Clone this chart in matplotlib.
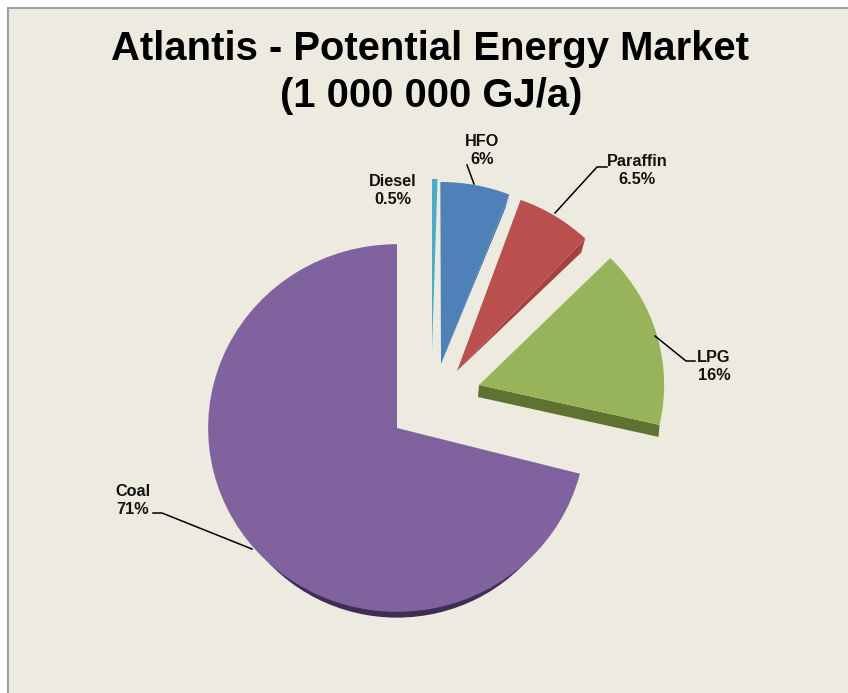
import matplotlib
matplotlib.use('Agg')
import matplotlib.pyplot as plt
import numpy as np
from matplotlib.patches import Rectangle, Wedge

W, H = 848, 693

fuels = ['Coal', 'LPG', 'Paraffin', 'HFO', 'Diesel']
shares = [71, 16, 6.5, 6, 0.5]
top_colors = ['#80639e', '#97b45a', '#b9504d', '#5080b8', '#4bacc6']
side_colors = ['#3f2d55', '#5f7232', '#a5423f', '#4874a8', '#4bacc6']

# pie centre and radii on the canvas, pixels
cx, cy = 397, 428
rx, ry = 187, 182

# how far each slice is pulled out (pixels right / up) and turned (degrees)
pull = [(0, 0), (82, 43), (60, 57), (44, 64), (35, 77)]
turn = [0, 1.6, 3.5, 2.0, 0]
scale = [1.01, 0.99, 1, 1, 0.945]

label_pos = [(133, 500), (714, 366), (637, 171), (482, 150), (393, 191)]
leaders = [
    [(153, 513), (162, 513), (252, 549)],
    [(655, 336), (686, 361), (695, 361)],
    [(607, 167), (597, 167), (555, 213)],
    [(467, 165), (474, 184)],
]

plt.rcParams['font.family'] = ['Liberation Sans', 'DejaVu Sans']

fig = plt.figure(figsize=(W / 100, H / 100), dpi=100, facecolor='white')

# tan slide panel, runs off the right and bottom
fig.patches.append(Rectangle((8 / W, -0.1), 1, 1.1 - 8 / H, transform=fig.transFigure,
                             facecolor='#edebe0', edgecolor='#a0a0a0', linewidth=1.5, zorder=0))

ax = fig.add_axes([0, 0, 1, 1], zorder=1)
wedges, _ = ax.pie(shares, colors=top_colors, startangle=90, counterclock=True, radius=1.0)
ax.set_aspect('auto')
ax.set_xlim(-cx / rx, (W - cx) / rx)
ax.set_ylim(-(H - cy) / ry, cy / ry)
ax.axis('off')

for w, (dx, dy), t, s in zip(wedges, pull, turn, scale):
    w.set_center((dx / rx, dy / ry))
    w.set_theta1(w.theta1 + t)
    w.set_theta2(w.theta2 + t)
    w.set_radius(s)
    w.set_zorder(3)
    w.set_linewidth(0)


def edge_points(w):
    # apex and outer corner of a wedge's lower straight edge
    a = np.radians(w.theta1)
    apex = np.array(w.center)
    return apex, apex + w.r * np.array([np.cos(a), np.sin(a)])


coal, lpg, paraffin, hfo, diesel = wedges

# rim under the big slice: a smaller, lowered wedge that only shows along the bottom
ax.add_patch(Wedge((0, -20 / ry), 0.932, 215, 325, facecolor=side_colors[0], linewidth=0, zorder=2))

# LPG wall has the same height along the whole edge
apex, tip = edge_points(lpg)
drop = np.array([-1 / rx, -12 / ry])
corners = np.array([apex, tip, tip + drop, apex + drop])
ax.fill(corners[:, 0], corners[:, 1], color=side_colors[1], linewidth=0, zorder=2)

# paraffin and HFO walls narrow down to nothing at the apex
for w, off, color in [(paraffin, (-4, -14), side_colors[2]), (hfo, (-4, -14), side_colors[3])]:
    apex, tip = edge_points(w)
    low = tip + np.array([off[0] / rx, off[1] / ry])
    corners = np.array([apex, tip, low])
    ax.fill(corners[:, 0], corners[:, 1], color=color, linewidth=0, zorder=2)

# title, labels and leader lines in canvas pixels
ov = fig.add_axes([0, 0, 1, 1], zorder=2)
ov.set_xlim(0, W)
ov.set_ylim(H, 0)
ov.axis('off')

ov.text(430, 60, 'Atlantis - Potential Energy Market', ha='center', va='baseline',
        fontsize=28.8, fontweight='bold')
ov.text(431, 107, '(1 000 000 GJ/a)', ha='center', va='baseline',
        fontsize=28.8, fontweight='bold')

for name, share, (x, y) in zip(fuels, shares, label_pos):
    ov.text(x, y, f'{name}\n{share:g}%', ha='center', va='center', fontsize=11.7,
            fontweight='bold', linespacing=1.25, color='#111111')

for pts in leaders:
    ov.plot([p[0] for p in pts], [p[1] for p in pts], color='black', linewidth=1.1)

fig.savefig('out.png', dpi=100)
